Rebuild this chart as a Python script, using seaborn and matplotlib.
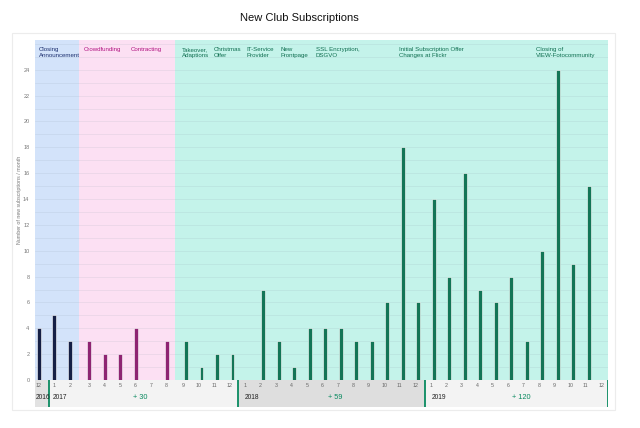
import matplotlib
matplotlib.use("Agg")
import matplotlib.pyplot as plt
import matplotlib.patches as mpatches
import seaborn as sns
import pandas as pd

sns.set_theme(style="white")
plt.rcParams['font.family'] = ['Liberation Sans', 'DejaVu Sans']

# ---- data ----
month_labels = ["12",
                "1", "2", "3", "4", "5", "6", "7", "8", "9", "10", "11", "12",
                "1", "2", "3", "4", "5", "6", "7", "8", "9", "10", "11", "12",
                "1", "2", "3", "4", "5", "6", "7", "8", "9", "10", "11", "12"]
years = ["2016"] + ["2017"] * 12 + ["2018"] * 12 + ["2019"] * 12
values = [4,
          5, 3, 3, 2, 2, 4, 0, 3, 3, 1, 2, 2,
          0, 7, 3, 1, 4, 4, 4, 3, 3, 6, 18, 6,
          14, 8, 16, 7, 6, 8, 3, 10, 24, 9, 15, 0]
phases = ["Closing"] * 3 + ["Crowdfunding"] * 6 + ["Club"] * 28
phase_colors = {"Closing": "#0d1b4d", "Crowdfunding": "#a0127a", "Club": "#03855c"}
phase_bg = {"Closing": "#d3e3fa", "Crowdfunding": "#fce0f3", "Club": "#c4f3ea"}
phase_text = {"Closing": "#1c2f6e", "Crowdfunding": "#b0107f", "Club": "#0f6e50"}

year_names = ["2016", "2017", "2018", "2019"]
year_totals = ["", "+ 30", "+ 59", "+ 120"]

events = [("Closing\nAnnouncement", -0.24, "Closing"),
          ("Crowdfunding", 2.66, "Crowdfunding"),
          ("Contracting", 5.70, "Crowdfunding"),
          ("Takeover,\nAdaptions", 9.01, "Club"),
          ("Christmas\nOffer", 11.07, "Club"),
          ("IT-Service\nProvider", 13.17, "Club"),
          ("New\nFrontpage", 15.38, "Club"),
          ("SSL Encryption,\nDSGVO", 17.62, "Club"),
          ("Initial Subscription Offer\nChanges at Flickr", 23.0, "Club"),
          ("Closing of\nVIEW-Fotocommunity", 31.84, "Club")]

keys = [f"{y}-{m}" for y, m in zip(years, month_labels)]
df = pd.DataFrame({"key": keys, "value": values, "phase": phases})

W, H = 640, 428
fig = plt.figure(figsize=(6.4, 4.28), dpi=100)
fig.patch.set_facecolor("white")

L, R, T, B = 35, 608, 40, 380
ax = fig.add_axes([L / W, 1 - B / H, (R - L) / W, (B - T) / H])

# background phase spans
ax.axvspan(-0.5, 2.35, color=phase_bg["Closing"], zorder=0.1, lw=0)
ax.axvspan(2.35, 8.57, color=phase_bg["Crowdfunding"], zorder=0.1, lw=0)
ax.axvspan(8.57, 36.5, color=phase_bg["Club"], zorder=0.1, lw=0)

sns.barplot(data=df, x="key", y="value", hue="phase", order=keys,
            hue_order=["Closing", "Crowdfunding", "Club"],
            palette=phase_colors, dodge=True, width=0.75, gap=0.0,
            edgecolor="white", linewidth=0.4, legend=False, ax=ax, zorder=3)

ax.set_xlim(-0.5, 36.5)
ax.set_ylim(0, 26.3)
ax.set_yticks(range(0, 25, 2))
ax.set_axisbelow(True)
ax.grid(False)
for yv in range(1, 27):
    ax.axhline(yv, color="#8a9aa8", alpha=0.15, lw=0.6, zorder=0.5)
ax.tick_params(axis="y", labelsize=4, colors="#777777", length=0, pad=4)
ax.set_xticks([])
ax.set_xlabel("")
ax.set_ylabel("")
for s in ax.spines.values():
    s.set_visible(False)

for txt, xp, ph in events:
    ax.text(xp, 25.75, txt, fontsize=4.4, color=phase_text[ph], va="top",
            ha="left", linespacing=1.2)

# bottom year band
band_top, band_bot = 380, 407
ax2 = fig.add_axes([L / W, 1 - band_bot / H, (R - L) / W, (band_bot - band_top) / H])
ax2.set_xlim(-0.5, 36.5)
ax2.set_ylim(0, 1)
ax2.axis("off")
bounds = [-0.5, 0.4, 12.6, 24.68, 36.5]
band_cols = ["#e2e2e2", "#f3f3f3", "#dedede", "#f3f3f3"]
for i in range(4):
    ax2.axvspan(bounds[i], bounds[i + 1], color=band_cols[i], lw=0, zorder=0)
for bx in bounds[1:]:
    ax2.axvline(bx, color="#0a8a60", lw=1.3, zorder=2)
year_x = [-0.47, 0.66, 13.06, 25.1]
total_x = [None, 6.28, 18.87, 30.9]
for i in range(4):
    ax2.text(year_x[i], 0.37, year_names[i], fontsize=4.8, color="#222222",
             ha="left", va="center")
    if year_totals[i]:
        ax2.text(total_x[i], 0.37, year_totals[i], fontsize=5.3, color="#0a8a60",
                 ha="center", va="center")
for i, lab in enumerate(month_labels):
    off = -0.25 if phases[i] == "Closing" else (0.05 if phases[i] == "Club" else 0.0)
    ax2.text(i + off, 0.8, lab, fontsize=3.8, color="#666666", ha="center", va="center")

# title and y-label
fig.text(299 / W, 1 - 18 / H, "New Club Subscriptions", fontsize=8,
         ha="center", va="center", color="#111111")
fig.text(20 / W, 1 - 200 / H, "Number of new subscriptions / month", fontsize=3.8,
         rotation=90, ha="center", va="center", color="#777777")

# faint card border
card = mpatches.Rectangle((12 / W, 1 - 410 / H), (615 - 12) / W, (410 - 33) / H,
                          transform=fig.transFigure, fill=False,
                          edgecolor="#ececec", lw=0.8)
fig.patches.append(card)

fig.savefig("out.png", dpi=100)
